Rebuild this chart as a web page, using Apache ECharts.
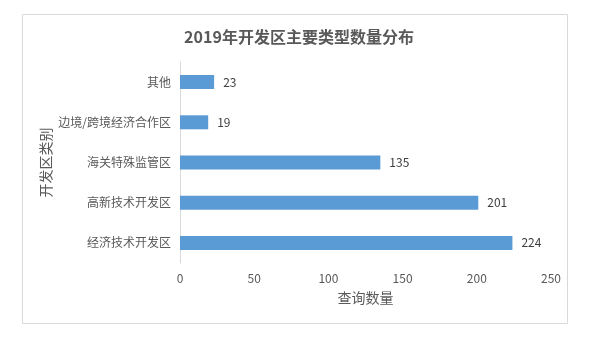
<!DOCTYPE html>
<html><head><meta charset="utf-8">
<script src="https://cdn.jsdelivr.net/npm/echarts@6/dist/echarts.min.js"></script>
<style>html,body{margin:0;padding:0;background:#fff}#c{width:592px;height:342px}</style>
</head><body><div id="c"></div>
<script>
const categories = ['经济技术开发区', '高新技术开发区', '海关特殊监管区', '边境/跨境经济合作区', '其他'];
const values = [224, 201, 135, 19, 23];
const titleText = '2019年开发区主要类型数量分布';
const xName = '查询数量';
const yName = '开发区类别';

const font = '"Noto Sans CJK SC", "Microsoft YaHei", sans-serif';
const chart = echarts.init(document.getElementById('c'), null, {renderer: 'canvas'});
chart.setOption({
  animation: false,
  textStyle: {fontFamily: font},
  title: {
    text: titleText, left: 294, top: 24, textAlign: 'center',
    textStyle: {fontFamily: font, fontSize: 16, fontWeight: 'bold', color: '#595959'}
  },
  graphic: [{
    type: 'rect', silent: true,
    shape: {x: 22.5, y: 14.5, width: 545, height: 309},
    style: {fill: 'none', stroke: '#d9d9d9', lineWidth: 1}
  }],
  grid: {left: 180, right: 41, top: 62, bottom: 79, containLabel: false},
  xAxis: {
    type: 'value', min: 0, max: 250, interval: 50,
    name: xName, nameLocation: 'middle', nameGap: 28,
    nameTextStyle: {fontSize: 14, color: '#595959', fontFamily: font},
    axisLine: {show: false}, axisTick: {show: false}, splitLine: {show: false},
    axisLabel: {color: '#595959', fontSize: 12, margin: 9, fontFamily: font}
  },
  yAxis: {
    type: 'category', data: categories,
    name: yName, nameLocation: 'middle', nameGap: 127, nameMoveOverlap: false,
    nameTextStyle: {fontSize: 14, color: '#595959', fontFamily: font},
    axisLine: {show: true, lineStyle: {color: '#d9d9d9'}}, axisTick: {show: false},
    axisLabel: {color: '#595959', fontSize: 12, margin: 9, fontFamily: font}
  },
  series: [{
    type: 'bar', data: values, barWidth: 14,
    itemStyle: {color: '#5b9bd5'},
    label: {show: true, position: 'right', distance: 9, color: '#404040', fontSize: 12, fontFamily: font}
  }]
});
</script></body></html>
